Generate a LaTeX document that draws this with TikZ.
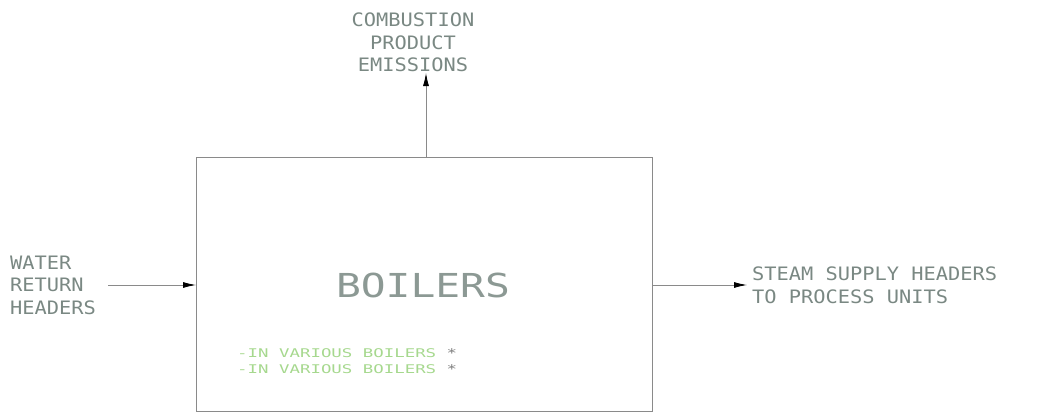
\documentclass[tikz,border=0pt]{standalone}
\usepackage{fontspec}
\usetikzlibrary{arrows.meta}
\newfontfamily\cadfont[FakeStretch=1.1]{DejaVu Sans Mono}
\newfontfamily\cadbig[FakeStretch=1.25]{DejaVu Sans Mono}
\newfontfamily\cadsmall[FakeStretch=1.45]{DejaVu Sans Mono}
\definecolor{txtgray}{HTML}{7A8883}
\definecolor{biggray}{HTML}{8C9994}
\definecolor{linegray}{HTML}{8A8A8A}
\definecolor{cadgreen}{HTML}{A6D88E}
\tikzset{
  lbl/.style={text=txtgray, inner sep=0pt, font=\cadfont\fontsize{18.5}{22.5}\selectfont},
  flow/.style={draw=linegray, line width=0.8pt, -{Latex[length=13pt,width=6pt,black]}},
  boxst/.style={draw=linegray, line width=1.1pt},
}
\begin{document}
\begin{tikzpicture}[x=1pt,y=-1pt]
\useasboundingbox (0,0) rectangle (1037,415);
\node[boxst, minimum width=456pt, minimum height=254pt, anchor=north west, inner sep=0pt] (box) at (196,157) {};
\node[text=biggray, inner sep=0pt, font=\cadbig\fontsize{33}{36}\selectfont] (boilers) at (423,285) {BOILERS};
\node[lbl, align=center] (comb) at (413,42.5) {COMBUSTION\\PRODUCT\\EMISSIONS};
\node[lbl, align=left, anchor=west] (water) at (10,285) {WATER\\RETURN\\HEADERS};
\node[lbl, align=left, anchor=west] (steam) at (752,285.5) {STEAM SUPPLY HEADERS\\TO PROCESS UNITS};
\node[inner sep=0pt, anchor=west, align=left, text=cadgreen, font=\cadsmall\fontsize{12}{16}\selectfont] (note) at (237,361) {-IN VARIOUS BOILERS \textcolor{gray}{*}\\-IN VARIOUS BOILERS \textcolor{gray}{*}};
\coordinate (upend) at (426,73);
\coordinate (leftstart) at (108,285);
\coordinate (rightend) at (747,285);
\draw[flow] (box.north -| upend) -- (upend);
\draw[flow] (leftstart) -- (leftstart -| box.west);
\draw[flow] (rightend -| box.east) -- (rightend);
\end{tikzpicture}
\end{document}
